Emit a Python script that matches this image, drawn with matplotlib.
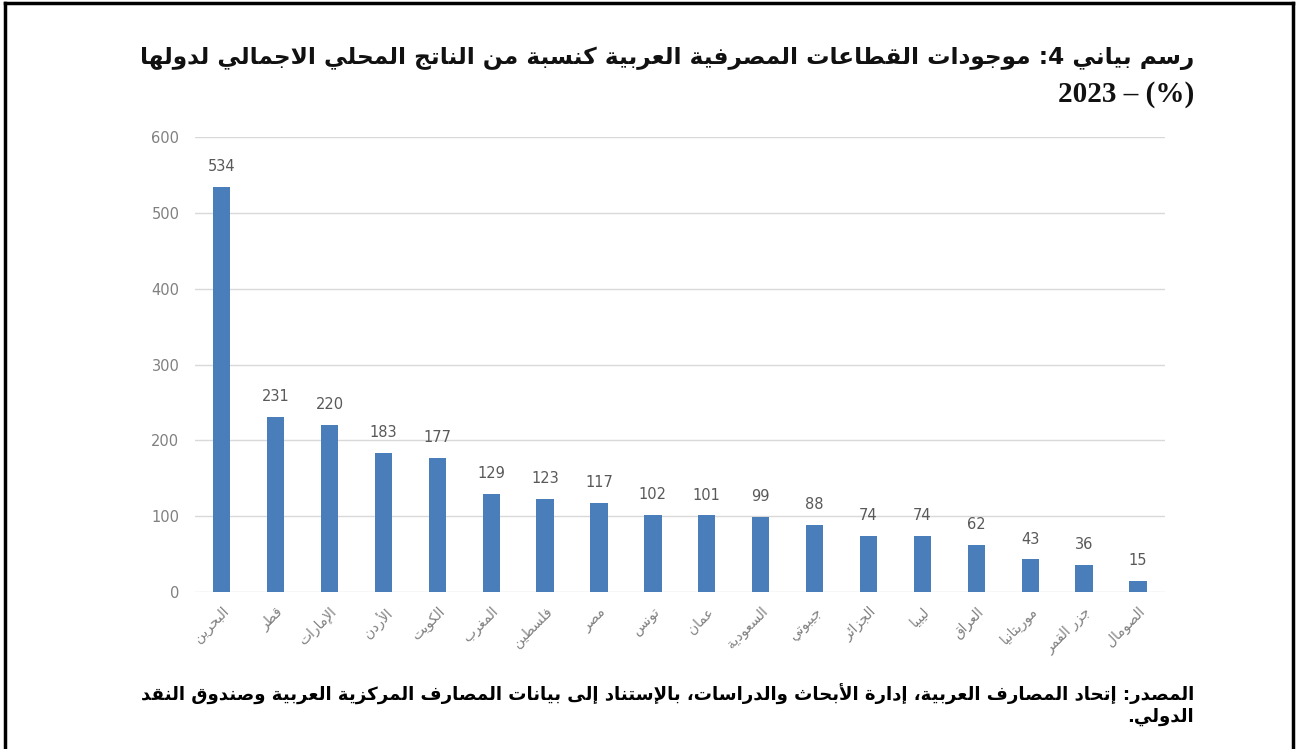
import matplotlib
matplotlib.use("Agg")
import matplotlib.pyplot as plt
from matplotlib.lines import Line2D
import numpy as np

countries = ["البحرين", "قطر", "الإمارات", "الأردن", "الكويت", "المغرب",
             "فلسطين", "مصر", "تونس", "عمان", "السعودية", "جيبوتي",
             "الجزائر", "ليبيا", "العراق", "موريتانيا", "جزر القمر", "الصومال"]
assets_pct = [534, 231, 220, 183, 177, 129, 123, 117, 102, 101, 99, 88,
              74, 74, 62, 43, 36, 15]
y_ticks = [0, 100, 200, 300, 400, 500, 600]

title_ar = "رسم بياني 4: موجودات القطاعات المصرفية العربية كنسبة من الناتج المحلي الاجمالي لدولها"
title_year = "2023 – (%)"
source_1 = "المصدر: إتحاد المصارف العربية، إدارة الأبحاث والدراسات، بالإستناد إلى بيانات المصارف المركزية العربية وصندوق النقد"
source_2 = "الدولي."

# presentation forms: isolated, final, initial, medial
FORMS = {
    "ء": (0xFE80,), "آ": (0xFE81, 0xFE82), "أ": (0xFE83, 0xFE84),
    "ؤ": (0xFE85, 0xFE86), "إ": (0xFE87, 0xFE88),
    "ئ": (0xFE89, 0xFE8A, 0xFE8B, 0xFE8C), "ا": (0xFE8D, 0xFE8E),
    "ب": (0xFE8F, 0xFE90, 0xFE91, 0xFE92), "ة": (0xFE93, 0xFE94),
    "ت": (0xFE95, 0xFE96, 0xFE97, 0xFE98), "ث": (0xFE99, 0xFE9A, 0xFE9B, 0xFE9C),
    "ج": (0xFE9D, 0xFE9E, 0xFE9F, 0xFEA0), "ح": (0xFEA1, 0xFEA2, 0xFEA3, 0xFEA4),
    "خ": (0xFEA5, 0xFEA6, 0xFEA7, 0xFEA8), "د": (0xFEA9, 0xFEAA),
    "ذ": (0xFEAB, 0xFEAC), "ر": (0xFEAD, 0xFEAE), "ز": (0xFEAF, 0xFEB0),
    "س": (0xFEB1, 0xFEB2, 0xFEB3, 0xFEB4), "ش": (0xFEB5, 0xFEB6, 0xFEB7, 0xFEB8),
    "ص": (0xFEB9, 0xFEBA, 0xFEBB, 0xFEBC), "ض": (0xFEBD, 0xFEBE, 0xFEBF, 0xFEC0),
    "ط": (0xFEC1, 0xFEC2, 0xFEC3, 0xFEC4), "ظ": (0xFEC5, 0xFEC6, 0xFEC7, 0xFEC8),
    "ع": (0xFEC9, 0xFECA, 0xFECB, 0xFECC), "غ": (0xFECD, 0xFECE, 0xFECF, 0xFED0),
    "ف": (0xFED1, 0xFED2, 0xFED3, 0xFED4), "ق": (0xFED5, 0xFED6, 0xFED7, 0xFED8),
    "ك": (0xFED9, 0xFEDA, 0xFEDB, 0xFEDC), "ل": (0xFEDD, 0xFEDE, 0xFEDF, 0xFEE0),
    "م": (0xFEE1, 0xFEE2, 0xFEE3, 0xFEE4), "ن": (0xFEE5, 0xFEE6, 0xFEE7, 0xFEE8),
    "ه": (0xFEE9, 0xFEEA, 0xFEEB, 0xFEEC), "و": (0xFEED, 0xFEEE),
    "ى": (0xFEEF, 0xFEF0), "ي": (0xFEF1, 0xFEF2, 0xFEF3, 0xFEF4),
}
LAM_ALEF = {"آ": (0xFEF5, 0xFEF6), "أ": (0xFEF7, 0xFEF8),
            "إ": (0xFEF9, 0xFEFA), "ا": (0xFEFB, 0xFEFC)}


def shape(text):
    # merge lam + alef into ligatures first
    units = []
    i = 0
    while i < len(text):
        c = text[i]
        if c == "ل" and i + 1 < len(text) and text[i + 1] in LAM_ALEF:
            units.append(("LA", LAM_ALEF[text[i + 1]]))
            i += 2
        else:
            units.append((c, FORMS.get(c)))
            i += 1
    out = []
    for k, (c, forms) in enumerate(units):
        if forms is None:
            out.append(c)
            continue
        prev = units[k - 1][1] if k > 0 else None
        nxt = units[k + 1][1] if k + 1 < len(units) else None
        join_prev = prev is not None and len(prev) == 4
        join_next = len(forms) == 4 and nxt is not None
        if join_prev and join_next:
            out.append(chr(forms[3]))
        elif join_next:
            out.append(chr(forms[2]))
        elif join_prev and len(forms) > 1:
            out.append(chr(forms[1]))
        else:
            out.append(chr(forms[0]))
    return "".join(out)


def rtl(text):
    # shape, then lay out right-to-left keeping digit runs in order
    s = shape(text)
    runs, cur = [], ""
    for ch in s:
        if ch.isdigit():
            cur += ch
        else:
            if cur:
                runs.append(cur)
                cur = ""
            runs.append(ch)
    if cur:
        runs.append(cur)
    return "".join(reversed(runs))


def fit_width(txt, width_px):
    # rescale a text so that it spans the given width in pixels
    r = fig.canvas.get_renderer()
    w = txt.get_window_extent(renderer=r).width
    txt.set_fontsize(txt.get_fontsize() * width_px / w)


plt.rcParams["font.family"] = ["DejaVu Sans"]
BOLD_AR = ["DejaVu Sans Condensed", "DejaVu Sans"]

fig = plt.figure(figsize=(12.98, 7.49), dpi=100)
ax = fig.add_axes([0.150, 0.2096, 0.7475, 0.607])

x = np.arange(len(countries))
ax.bar(x, assets_pct, width=0.32, color="#4a7ebb", zorder=3)
for xi, v in zip(x, assets_pct):
    ax.text(xi, v + 17, str(v), ha="center", va="bottom",
            fontsize=10.5, color="#595959")

ax.set_xlim(-0.5, len(countries) - 0.5)
ax.set_ylim(0, 600)
ax.set_yticks(y_ticks)
ax.set_yticklabels([str(t) for t in y_ticks], fontsize=10.5, color="#808080")
ax.yaxis.grid(True, color="#d9d9d9", linewidth=1.0, zorder=0)
ax.tick_params(axis="both", length=0)
ax.tick_params(axis="y", pad=11)
for s in ax.spines.values():
    s.set_visible(False)

ax.set_xticks(x)
ax.set_xticklabels([rtl(c) for c in countries], rotation=45, ha="right",
                   va="top", rotation_mode="anchor", fontsize=10,
                   color="#808080")
ax.tick_params(axis="x", pad=9)

# title and source, right aligned
x_right = 1194 / 1298
t1 = fig.text(x_right, 0.915, rtl(title_ar), ha="right", va="baseline",
              fontsize=18, fontweight="bold", family=BOLD_AR, color="#111111")
fig.text(x_right, 0.864, title_year, ha="right", va="baseline",
         fontsize=21, fontweight="bold", family="Liberation Serif",
         color="#111111")
f1 = fig.text(x_right, 0.065, rtl(source_1), ha="right", va="baseline",
              fontsize=12, fontweight="bold", family=BOLD_AR, color="black")
f2 = fig.text(x_right, 0.036, rtl(source_2), ha="right", va="baseline",
              fontsize=12, fontweight="bold", family=BOLD_AR, color="black")
fit_width(t1, 1060)
fit_width(f1, 1050)
f2.set_fontsize(f1.get_fontsize())

# frame around the chart
for xs, ys in [([0.004, 0.004], [0.0, 0.996]), ([0.996, 0.996], [0.0, 0.996]),
               ([0.004, 0.996], [0.996, 0.996])]:
    fig.add_artist(Line2D(xs, ys, color="black", linewidth=2.5,
                          transform=fig.transFigure))

fig.savefig("out.png", dpi=100)
